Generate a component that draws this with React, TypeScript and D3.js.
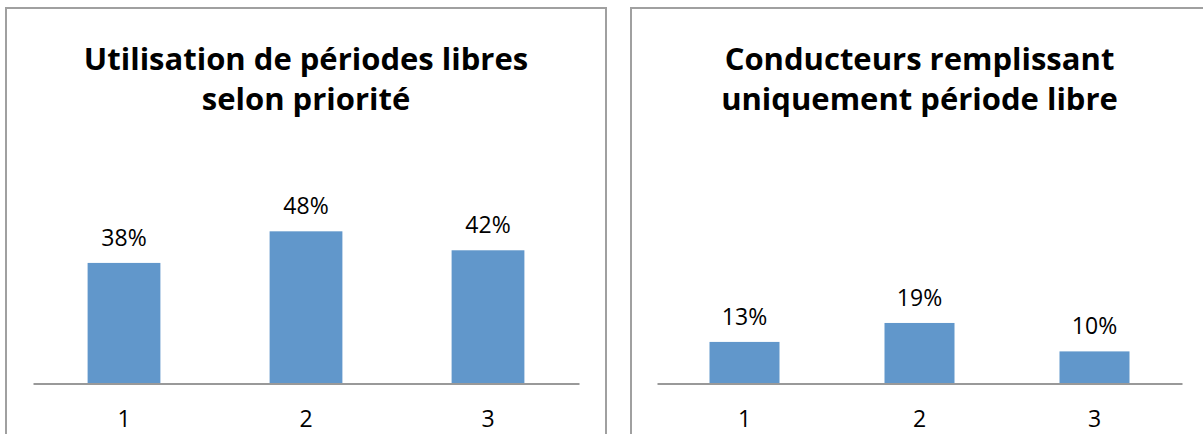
import React, { useEffect, useRef } from "react";
import * as d3 from "d3";

const categories = ["1", "2", "3"];
const usageValues = [0.38, 0.48, 0.42];
const onlyFreeValues = [0.13, 0.19, 0.1];
const usageTitle = ["Utilisation de périodes libres", "selon priorité"];
const onlyFreeTitle = ["Conducteurs remplissant", "uniquement période libre"];

const W = 1203;
const H = 434;
const FONT = "'Open Sans', sans-serif";
const BAR = "#6197CB";
const GREY = "#A0A0A0";

export default function App() {
  const ref = useRef<SVGSVGElement>(null);

  useEffect(() => {
    document.body.style.margin = "0";
    const svg = d3.select(ref.current);
    svg.selectAll("*").remove();

    const y = d3.scaleLinear().domain([0, 0.6]).range([383, 193.4]);

    const panels = [
      { x0: 6, x1: 606, plot: [33, 579], title: usageTitle, values: usageValues },
      { x0: 631, x1: 1210, plot: [657, 1182], title: onlyFreeTitle, values: onlyFreeValues },
    ];

    panels.forEach((p) => {
      const g = svg.append("g");

      // panel frame (bottom runs off the picture)
      g.append("rect")
        .attr("x", p.x0)
        .attr("y", 8)
        .attr("width", p.x1 - p.x0)
        .attr("height", H)
        .attr("fill", "white")
        .attr("stroke", GREY)
        .attr("stroke-width", 2);

      const x = d3.scaleBand()
        .domain(categories)
        .range(p.plot as [number, number])
        .paddingInner(0.6)
        .paddingOuter(0.3);

      const cx = (p.plot[0] + p.plot[1]) / 2;
      g.append("text")
        .attr("text-anchor", "middle")
        .attr("font-family", FONT)
        .attr("font-weight", "bold")
        .attr("font-size", 31)
        .selectAll("tspan")
        .data(p.title)
        .enter()
        .append("tspan")
        .attr("x", cx)
        .attr("y", (d, i) => 70 + i * 40)
        .text((d) => d);

      g.selectAll("rect.bar")
        .data(p.values)
        .enter()
        .append("rect")
        .attr("class", "bar")
        .attr("x", (d, i) => x(categories[i])!)
        .attr("y", (d) => y(d))
        .attr("width", x.bandwidth())
        .attr("height", (d) => y(0) - y(d))
        .attr("fill", BAR);

      g.selectAll("text.lbl")
        .data(p.values)
        .enter()
        .append("text")
        .attr("class", "lbl")
        .attr("x", (d, i) => x(categories[i])! + x.bandwidth() / 2)
        .attr("y", (d) => y(d) - 17)
        .attr("text-anchor", "middle")
        .attr("font-family", FONT)
        .attr("font-size", 23)
        .attr("fill", "#000")
        .text((d) => d3.format(".0%")(d));

      const axis = g.append("g")
        .attr("transform", `translate(0, ${y(0) + 0.5})`)
        .call(d3.axisBottom(x).tickSize(0).tickPadding(27));
      axis.select(".domain").attr("stroke", "#999").attr("stroke-width", 2);
      axis.selectAll(".tick text")
        .attr("font-family", FONT)
        .attr("font-size", 23)
        .attr("fill", "#000");
    });
  }, []);

  return <svg ref={ref} width={W} height={H} style={{ display: "block" }} />;
}
